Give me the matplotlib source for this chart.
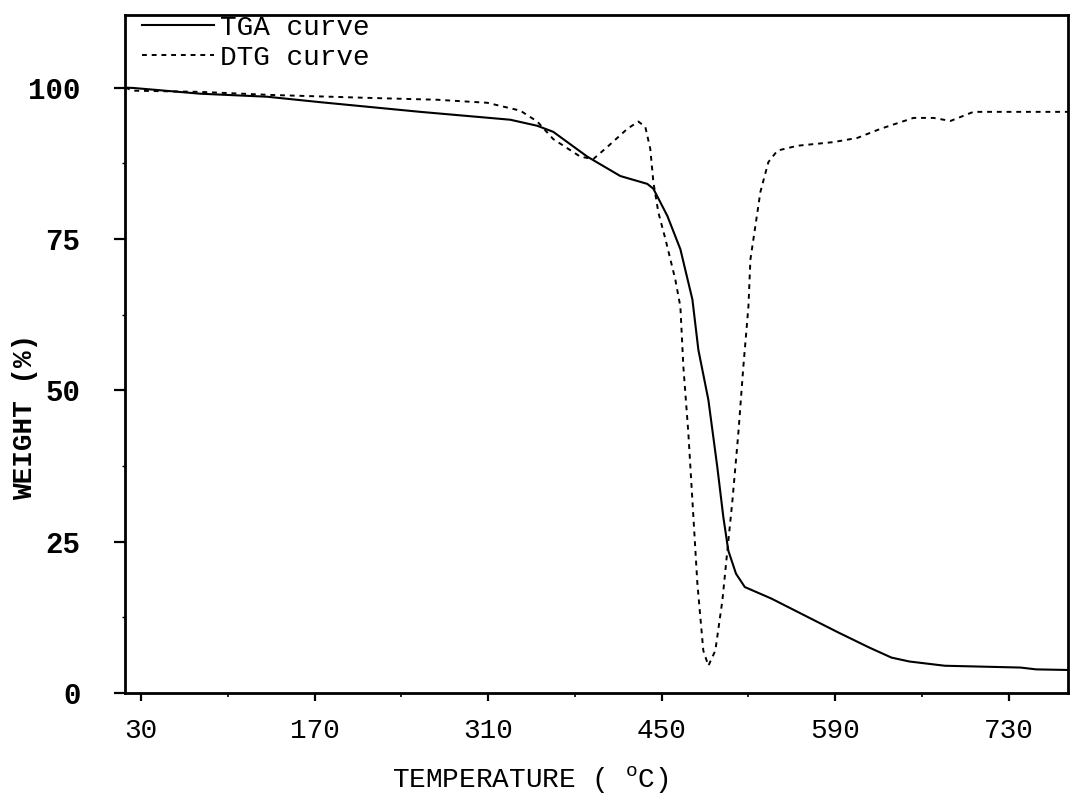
import numpy as np
import matplotlib

matplotlib.use("Agg")
from matplotlib import pyplot as plt
from matplotlib.ticker import MultipleLocator, FixedLocator

# -----------
# Chart data
# -----------

# TGA curve: temperature (C) and weight (%)
tga_temp = [17.1, 23.5, 77.6, 131.7, 174.5, 255.3, 327.9, 349.7, 362.6, 390.1,
            416.7, 438.5, 443.4, 454.7, 465.2, 474.9, 479.7, 487.8, 495.0, 499.9,
            503.9, 510.1, 517.2, 538.6, 570.4, 592.6, 617.7, 635.5, 650.0, 678.6,
            739.7, 752.3, 778.0]
tga_weight = [100.0, 99.95, 99.0, 98.5, 97.6, 96.0, 94.7, 93.7, 92.7, 88.6,
              85.4, 84.1, 83.3, 78.8, 73.3, 65.0, 56.7, 48.4, 37.3, 29.0,
              23.5, 19.7, 17.5, 15.6, 12.3, 10.0, 7.5, 5.85, 5.2, 4.5,
              4.2, 3.9, 3.8]

# DTG curve (drawn on the same scale)
dtg_temp = [17.1, 23.5, 77.6, 134.0, 214.9, 268.9, 309.3, 336.0, 349.7, 362.6,
            384.4, 394.9, 406.2, 422.4, 431.3, 436.9, 440.9, 443.4, 447.4, 453.1,
            461.1, 465.2, 467.6, 471.6, 474.9, 478.9, 483.7, 487.8, 493.4, 499.1,
            503.1, 507.2, 512.0, 516.0, 520.1, 521.7, 529.8, 536.2, 543.5, 559.6,
            588.7, 608.1, 626.7, 653.3, 669.4, 683.2, 701.7, 723.5, 778.0]
dtg_value = [100.0, 99.5, 99.3, 98.8, 98.3, 98.0, 97.5, 96.2, 94.4, 91.5,
             88.6, 88.2, 90.2, 93.2, 94.4, 93.5, 89.9, 84.4, 79.4, 75.0,
             68.3, 63.8, 53.9, 43.0, 31.8, 18.1, 7.0, 4.5, 7.0, 15.3,
             23.5, 31.8, 43.0, 53.9, 63.8, 71.6, 82.8, 87.7, 89.6, 90.4,
             91.0, 91.7, 93.2, 95.0, 95.0, 94.5, 96.0, 96.0, 96.0]

x_ticks = [30, 170, 310, 450, 590, 730]
y_ticks = [0, 25, 50, 75, 100]

# -----
# Plot
# -----
plt.rcParams['font.family'] = ['Liberation Mono', 'DejaVu Sans']
plt.rcParams['mathtext.fontset'] = 'custom'
plt.rcParams['mathtext.rm'] = 'Liberation Mono'

fig = plt.figure(figsize=(10.74, 7.98), dpi=100)
ax = fig.add_axes([0.1164, 0.1316, 0.878, 0.8496])

ax.plot(tga_temp, tga_weight, color='black', lw=1.5, label='TGA curve')
ax.plot(dtg_temp, dtg_value, color='black', lw=1.4, linestyle=(0, (2.5, 2.5)),
        label='DTG curve')

ax.set_xlim(17, 778)
ax.set_ylim(0, 112)

ax.set_xticks(x_ticks)
ax.set_xticklabels([str(t) for t in x_ticks], fontsize=20)
ax.xaxis.set_minor_locator(FixedLocator([100, 240, 380, 520, 660]))
ax.set_yticks(y_ticks)
ax.set_yticklabels([str(t) for t in y_ticks], fontsize=21, fontweight='bold')
ax.yaxis.set_minor_locator(MultipleLocator(12.5))

ax.tick_params(axis='x', which='major', direction='out', length=6, width=1.6, pad=12)
ax.tick_params(axis='x', which='minor', direction='out', length=3, width=1.2)
ax.tick_params(axis='y', which='major', direction='out', length=8, width=1.6, pad=24)
ax.tick_params(axis='y', which='minor', direction='out', length=2, width=1.0)

for side in ['left', 'right', 'top', 'bottom']:
    ax.spines[side].set_linewidth(2.0)

ax.set_xlabel(r'TEMPERATURE ( $^{\mathrm{o}}$C)', fontsize=20)
ax.xaxis.set_label_coords(0.43, -0.105)
ax.set_ylabel('WEIGHT (%)', fontsize=20, fontweight='bold')
ax.yaxis.set_label_coords(-0.092, 0.407)

ax.legend(loc='upper left', bbox_to_anchor=(0.009, 1.012), frameon=False,
          fontsize=20, handlelength=2.6, handletextpad=0.2, labelspacing=0.12,
          borderaxespad=0.0, borderpad=0.3)

fig.savefig('out.png', dpi=100)
